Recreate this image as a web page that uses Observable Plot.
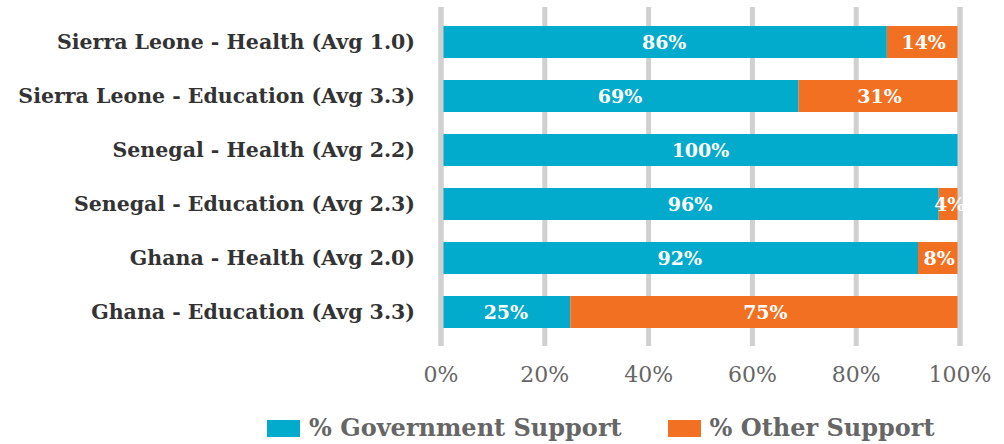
<!DOCTYPE html>
<html>
<head>
<meta charset="utf-8">
<script src="https://cdn.jsdelivr.net/npm/d3@7"></script>
<script src="https://cdn.jsdelivr.net/npm/@observablehq/plot@0.6"></script>
<style>
  html, body { margin: 0; padding: 0; background: #fff; }
  #chart { width: 1004px; }
  .legend { display: flex; justify-content: flex-start; align-items: center; font-family: "DejaVu Serif", serif; font-weight: bold; font-size: 24px; line-height: 28px; color: #666; margin-left: 267px; margin-top: 19px; white-space: nowrap; }
  .legend .item { display: flex; align-items: center; margin-right: 46px; }
  .legend .sw { width: 33px; height: 17px; margin-right: 9px; }
</style>
</head>
<body>
<div id="chart"></div>
<script>
const categories = [
  "Sierra Leone - Health (Avg 1.0)",
  "Sierra Leone - Education (Avg 3.3)",
  "Senegal - Health (Avg 2.2)",
  "Senegal - Education (Avg 2.3)",
  "Ghana - Health (Avg 2.0)",
  "Ghana - Education (Avg 3.3)"
];
const governmentSupport = [86, 69, 100, 96, 92, 25];
const otherSupport = [14, 31, 0, 4, 8, 75];
const seriesNames = ["% Government Support", "% Other Support"];
const seriesColors = ["#02abcb", "#f27022"];
const xTicks = [0, 20, 40, 60, 80, 100];

const rows = [];
categories.forEach((c, i) => {
  rows.push({category: c, series: seriesNames[0], value: governmentSupport[i]});
  rows.push({category: c, series: seriesNames[1], value: otherSupport[i]});
});

const font = "DejaVu Serif, serif";

const chart = Plot.plot({
  width: 1004,
  height: 395,
  marginLeft: 440.5,
  marginRight: 44.5,
  marginTop: 7,
  marginBottom: 49,
  style: {fontFamily: font, background: "#fff"},
  x: {domain: [0, 100], ticks: xTicks},
  y: {domain: categories, paddingInner: 0.41, paddingOuter: 0.32},
  color: {domain: seriesNames, range: seriesColors},
  marks: [
    Plot.ruleX(xTicks, {x: d => d, stroke: "#d0d0d0", strokeWidth: 5}),
    Plot.barX(rows, {x: "value", y: "category", fill: "series", order: seriesNames}),
    Plot.ruleX([xTicks[0], xTicks[xTicks.length - 1]], {x: d => d, stroke: "#d0d0d0", strokeWidth: 5}),
    Plot.text(rows.filter(d => d.value > 0), Plot.stackX({
      x: "value", y: "category", z: "series", order: seriesNames,
      text: d => d.value + "%", fill: "#fff", fontWeight: "bold", fontSize: 19
    })),
    Plot.axisX({ticks: xTicks, tickFormat: d => d + "%", tickSize: 0, tickPadding: 20, fontSize: 22, color: "#666", label: null}),
    Plot.axisY({tickSize: 0, tickPadding: 26, fontSize: 20.5, fontWeight: "bold", color: "#333", label: null})
  ]
});
document.getElementById("chart").appendChild(chart);

const legend = document.createElement("div");
legend.className = "legend";
seriesNames.forEach((n, i) => {
  const item = document.createElement("div");
  item.className = "item";
  const sw = document.createElement("div");
  sw.className = "sw";
  sw.style.background = seriesColors[i];
  const t = document.createElement("span");
  t.textContent = n;
  item.appendChild(sw);
  item.appendChild(t);
  legend.appendChild(item);
});
document.getElementById("chart").appendChild(legend);
</script>
</body>
</html>
